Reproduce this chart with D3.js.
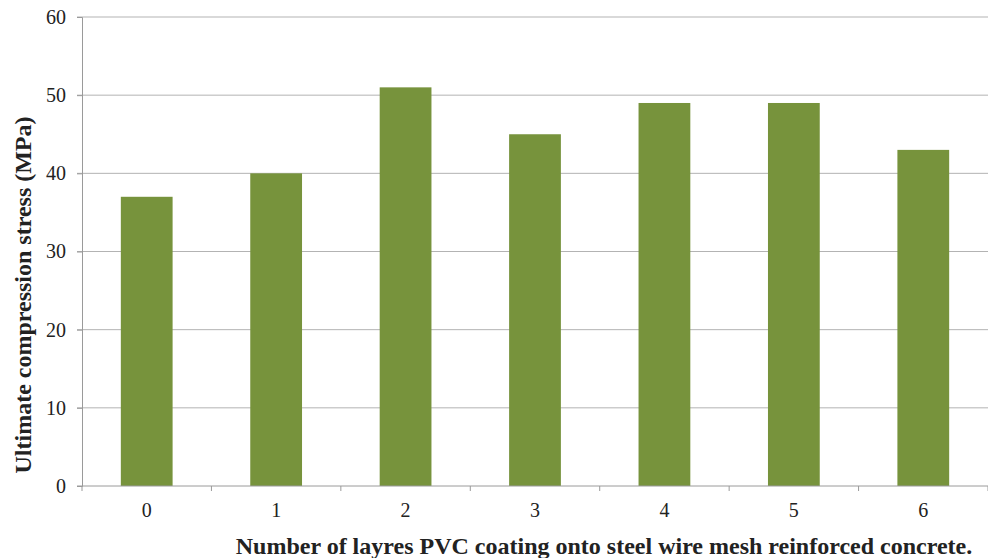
<!DOCTYPE html>
<html>
<head>
<meta charset="utf-8">
<script src="https://cdn.jsdelivr.net/npm/d3@7"></script>
<style>
  body { margin: 0; background: #fff; }
</style>
</head>
<body>
<div id="chart"></div>
<script>
// layers of PVC coating and measured ultimate compression stress
var layers = ["0", "1", "2", "3", "4", "5", "6"];
var stress = [37, 40, 51, 45, 49, 49, 43];
var yTicks = [0, 10, 20, 30, 40, 50, 60];

var FONT = "'Liberation Serif', 'DejaVu Serif', serif";
var W = 988, H = 558;
var margin = { top: 17, right: 0, bottom: 72, left: 82 },
    width = W - margin.left - margin.right,
    height = H - margin.top - margin.bottom;

var svg = d3.select("#chart").append("svg")
    .attr("width", W)
    .attr("height", H);

var g = svg.append("g")
    .attr("transform", "translate(" + margin.left + "," + margin.top + ")");

var xScale = d3.scaleBand()
    .domain(layers)
    .range([0, width])
    .paddingInner(0.6)
    .paddingOuter(0.3);

var yScale = d3.scaleLinear()
    .domain([0, 60])
    .range([height, 0]);

// gridlines
g.append("g")
    .selectAll("line")
    .data(yTicks.filter(function(d) { return d > 0; }))
    .enter().append("line")
    .attr("x1", -5)
    .attr("x2", width)
    .attr("y1", function(d) { return yScale(d); })
    .attr("y2", function(d) { return yScale(d); })
    .attr("stroke", "#b3b3b3")
    .attr("stroke-width", 1);

// bars
g.selectAll(".bar")
    .data(stress)
    .enter().append("rect")
    .attr("class", "bar")
    .attr("x", function(d, i) { return xScale(layers[i]); })
    .attr("width", xScale.bandwidth())
    .attr("y", function(d) { return yScale(d); })
    .attr("height", function(d) { return height - yScale(d); })
    .attr("fill", "#77933c");

// y axis
var yAxis = d3.axisLeft(yScale)
    .tickValues(yTicks)
    .tickSize(5)
    .tickPadding(11);

var yG = g.append("g").call(yAxis)
    .attr("font-family", FONT)
    .attr("font-size", 20);
yG.select(".domain").attr("stroke", "#9a9a9a");
yG.selectAll(".tick line").attr("stroke", "#9a9a9a");
yG.selectAll("text").attr("fill", "#222");

// x axis: category boundaries get the tick marks
var xG = g.append("g").attr("transform", "translate(0," + height + ")");
xG.append("line")
    .attr("x1", -5).attr("x2", width)
    .attr("stroke", "#9a9a9a");
xG.selectAll(".xtick")
    .data(d3.range(layers.length + 1))
    .enter().append("line")
    .attr("x1", function(i) { return i * width / layers.length; })
    .attr("x2", function(i) { return i * width / layers.length; })
    .attr("y1", 0).attr("y2", 5)
    .attr("stroke", "#9a9a9a");
xG.selectAll(".xlabel")
    .data(layers)
    .enter().append("text")
    .attr("x", function(d) { return xScale(d) + xScale.bandwidth() / 2; })
    .attr("y", 31)
    .attr("text-anchor", "middle")
    .attr("font-family", FONT)
    .attr("font-size", 20)
    .attr("fill", "#222")
    .text(function(d) { return d; });

// axis titles
svg.append("text")
    .attr("x", 604)
    .attr("y", 554)
    .attr("text-anchor", "middle")
    .attr("font-family", FONT)
    .attr("font-size", 24)
    .attr("font-weight", "bold")
    .attr("fill", "#222")
    .text("Number of layres PVC coating onto steel wire mesh reinforced concrete.");

svg.append("text")
    .attr("transform", "translate(31,295) rotate(-90)")
    .attr("text-anchor", "middle")
    .attr("font-family", FONT)
    .attr("font-size", 24)
    .attr("font-weight", "bold")
    .attr("fill", "#222")
    .text("Ultimate compression stress (MPa)");
</script>
</body>
</html>
